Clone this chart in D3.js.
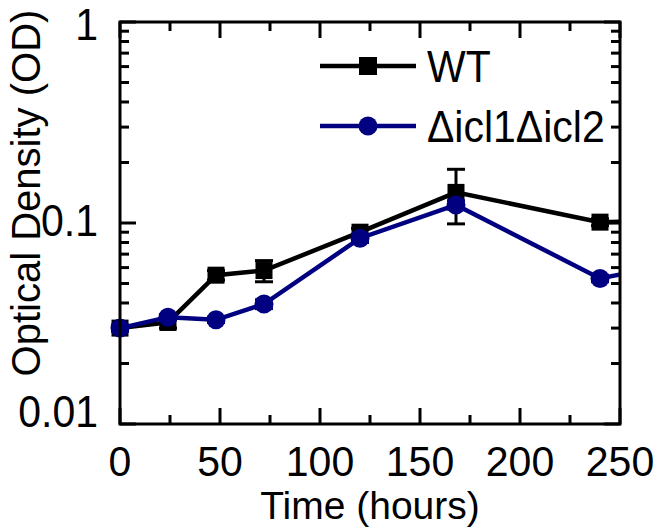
<!DOCTYPE html>
<html><head><meta charset="utf-8">
<script src="https://cdn.jsdelivr.net/npm/d3@7"></script>
<style>body{margin:0;background:#fff}svg{display:block}text{font-family:"Liberation Sans",Arial,sans-serif;fill:#000}</style>
</head><body>
<script>
// Data
const timesHours = [0, 24, 48, 72, 120, 168, 240, 264];
const wtOD = [0.030, 0.032, 0.055, 0.058, 0.090, 0.142, 0.101, 0.102];
const wtErr = [0.001, 0.002, 0.003, 0.007, 0.004, 0.043, 0.004, 0.004];
const icl2OD = [0.030, 0.034, 0.033, 0.0395, 0.084, 0.123, 0.053, 0.059];
const icl2Err = [0.001, 0.001, 0.001, 0.002, 0.004, 0.006, 0.002, 0.002];
const seriesNames = ["WT", "\u0394icl1\u0394icl2"];
const seriesColors = ["#000000", "#000080"];
const xTickValues = [0, 50, 100, 150, 200, 250];
const xMinorTicks = [25, 75, 125, 175, 225];
const yTickValues = [0.01, 0.1, 1];
const xLabel = "Time (hours)";
const yLabel = "Optical Density (OD)";

const W = 658, H = 527;
const L = 120, R = 620, T = 22, B = 424;
const svg = d3.select("body").append("svg").attr("width", W).attr("height", H);
const x = d3.scaleLinear().domain([0, 250]).range([L, R]);
const y = d3.scaleLog().domain([0.01, 1]).range([B, T]);

svg.append("defs").append("clipPath").attr("id", "clip")
  .append("rect").attr("x", 0).attr("y", 0).attr("width", R).attr("height", H);

const yMinor = [];
[0.01, 0.1].forEach(d => { for (let k = 2; k <= 9; k++) yMinor.push(d * k); });

// ticks
const tickG = svg.append("g").attr("stroke", "#000").attr("stroke-width", 3);
xTickValues.forEach(v => {
  tickG.append("line").attr("x1", x(v)).attr("x2", x(v)).attr("y1", B).attr("y2", B - 16);
  tickG.append("line").attr("x1", x(v)).attr("x2", x(v)).attr("y1", T).attr("y2", T + 16);
});
xMinorTicks.forEach(v => {
  tickG.append("line").attr("x1", x(v)).attr("x2", x(v)).attr("y1", B).attr("y2", B - 9);
  tickG.append("line").attr("x1", x(v)).attr("x2", x(v)).attr("y1", T).attr("y2", T + 9);
});
yTickValues.forEach(v => {
  tickG.append("line").attr("x1", L).attr("x2", L + 16).attr("y1", y(v)).attr("y2", y(v));
  tickG.append("line").attr("x1", R).attr("x2", R - 16).attr("y1", y(v)).attr("y2", y(v));
});
yMinor.forEach(v => {
  tickG.append("line").attr("x1", L).attr("x2", L + 9).attr("y1", y(v)).attr("y2", y(v));
  tickG.append("line").attr("x1", R).attr("x2", R - 9).attr("y1", y(v)).attr("y2", y(v));
});

// series
const data = [wtOD, icl2OD];
const errs = [wtErr, icl2Err];
const plot = svg.append("g").attr("clip-path", "url(#clip)");
data.forEach((vals, si) => {
  const pts = timesHours.map((t, i) => ({t, v: vals[i], e: errs[si][i]}));
  const col = seriesColors[si];
  plot.append("path").datum(pts)
    .attr("d", d3.line().x(d => x(d.t)).y(d => y(d.v)))
    .attr("fill", "none").attr("stroke", col).attr("stroke-width", 4.5);
  const vis = pts.filter(d => d.t <= 250);
  const eb = plot.append("g").attr("stroke", col).attr("stroke-width", 3);
  vis.forEach(d => {
    const y1 = y(d.v + d.e), y2 = y(d.v - d.e);
    eb.append("line").attr("x1", x(d.t)).attr("x2", x(d.t)).attr("y1", y1).attr("y2", y2);
    eb.append("line").attr("x1", x(d.t) - 9).attr("x2", x(d.t) + 9).attr("y1", y1).attr("y2", y1);
    eb.append("line").attr("x1", x(d.t) - 9).attr("x2", x(d.t) + 9).attr("y1", y2).attr("y2", y2);
  });
  if (si === 0) {
    plot.selectAll(null).data(vis).enter().append("rect")
      .attr("x", d => x(d.t) - 8.5).attr("y", d => y(d.v) - 8.5)
      .attr("width", 17).attr("height", 17).attr("fill", col);
  } else {
    plot.selectAll(null).data(vis).enter().append("circle")
      .attr("cx", d => x(d.t)).attr("cy", d => y(d.v)).attr("r", 9.5).attr("fill", col);
  }
});

// frame
svg.append("rect").attr("x", L).attr("y", T).attr("width", R - L).attr("height", B - T)
  .attr("fill", "none").attr("stroke", "#000").attr("stroke-width", 3);

// text helper: slightly tall glyphs, as in the reference
function txt(px, py, s, anchor, rot, fs, sy) {
  return svg.append("text")
    .attr("transform", `translate(${px},${py})` + (rot ? ` rotate(${rot})` : "") + ` scale(1,${sy})`)
    .attr("text-anchor", anchor).attr("font-size", fs).text(s);
}
xTickValues.forEach(d => txt(x(d), 476, d, "middle", 0, 41, 1.05));
const yOff = {0.01: -12, 0.1: -2, 1: 3};
yTickValues.forEach(d => txt(98, y(d) + yOff[d] + 15, d, "end", 0, 41, 1.08));

txt(370, 519, xLabel, "middle", 0, 39, 1.0);
txt(40, 193, yLabel, "middle", -90, 40, 1.0);

// legend
const legY = [66, 126];
seriesNames.forEach((n, i) => {
  const g = svg.append("g");
  g.append("line").attr("x1", 320).attr("x2", 416).attr("y1", legY[i]).attr("y2", legY[i])
    .attr("stroke", seriesColors[i]).attr("stroke-width", 4.5);
  if (i === 0) g.append("rect").attr("x", 359).attr("y", legY[i] - 9).attr("width", 18).attr("height", 18).attr("fill", seriesColors[i]);
  else g.append("circle").attr("cx", 368).attr("cy", legY[i]).attr("r", 9.5).attr("fill", seriesColors[i]);
  txt(427, legY[i] + 16, n, "start", 0, 41, 1.1);
});
</script>
</body></html>
